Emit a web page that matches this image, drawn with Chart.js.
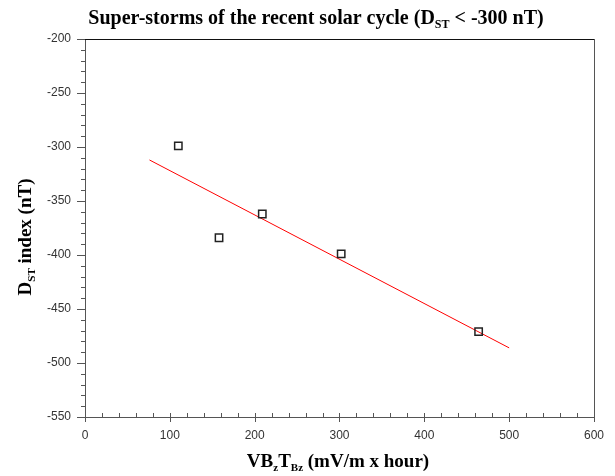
<!DOCTYPE html>
<html>
<head>
<meta charset="utf-8">
<script src="https://cdn.jsdelivr.net/npm/chart.js@4"></script>
<style>
  html, body { margin: 0; padding: 0; background: #fff; }
  #wrap { width: 615px; height: 476px; position: relative; }
</style>
</head>
<body>
<div id="wrap"><canvas id="chart"></canvas></div>
<script>
// Super-storms: coupling function vs Dst minimum
const stormX = [110, 158, 209, 302, 464];
const stormDst = [-299, -384, -362, -399, -471];

// Fitted trend line, end points
const fitX = [76, 500];
const fitDst = [-312, -486];

const xTickLabels = ['0', '100', '200', '300', '400', '500', '600'];
const yTickLabels = ['-550', '-500', '-450', '-400', '-350', '-300', '-250', '-200'];

const SERIF = '"Liberation Serif", "Times New Roman", serif';
const SANS = '"Liberation Sans", Arial, sans-serif';

// Draw text made of pieces, some of them subscript
function richWidth(ctx, parts, size) {
    let w = 0;
    parts.forEach(p => {
        ctx.font = 'bold ' + (p.sub ? Math.round(size * 0.6) : size) + 'px ' + SERIF;
        w += ctx.measureText(p.t).width;
    });
    return w;
}

function drawRich(ctx, parts, size, cx, baseline) {
    let x = cx - richWidth(ctx, parts, size) / 2;
    ctx.textAlign = 'left';
    ctx.textBaseline = 'alphabetic';
    ctx.fillStyle = '#000';
    parts.forEach(p => {
        ctx.font = 'bold ' + (p.sub ? Math.round(size * 0.6) : size) + 'px ' + SERIF;
        ctx.fillText(p.t, x, baseline + (p.sub ? size * 0.22 : 0));
        x += ctx.measureText(p.t).width;
    });
}

const titleParts = [
    { t: 'Super-storms of the recent solar cycle (D' },
    { t: 'ST', sub: true },
    { t: ' < -300 nT)' },
];
const xTitleParts = [
    { t: 'VB' }, { t: 'z', sub: true }, { t: 'T' }, { t: 'Bz', sub: true },
    { t: ' (mV/m x hour)' },
];
const yTitleParts = [
    { t: 'D' }, { t: 'ST', sub: true }, { t: ' index (nT)' },
];

// Frame, ticks and rich-text titles
const framePlugin = {
    id: 'frame',
    afterDraw(chart) {
        const ctx = chart.ctx;
        const a = chart.chartArea;
        const xs = chart.scales.x;
        const ys = chart.scales.y;
        ctx.save();
        ctx.lineWidth = 1;
        ctx.strokeStyle = '#555';
        ctx.strokeRect(Math.round(a.left) + 0.5, Math.round(a.top) + 0.5,
            Math.round(a.right - a.left), Math.round(a.bottom - a.top));
        ctx.strokeStyle = '#111';
        ctx.beginPath();
        ctx.moveTo(Math.round(a.left), Math.round(a.top) + 0.5);
        ctx.lineTo(Math.round(a.right), Math.round(a.top) + 0.5);
        ctx.stroke();

        ctx.strokeStyle = '#555';
        // x ticks every 20, inside
        ctx.beginPath();
        for (let v = 0; v <= 600; v += 20) {
            const px = Math.round(xs.getPixelForValue(v)) + 0.5;
            const major = v % 100 === 0;
            const b = Math.round(a.bottom);
            ctx.moveTo(px, major ? b + 5 : b);
            ctx.lineTo(px, b - 4);
        }
        // y ticks every 10, outside
        for (let v = -550; v <= -200; v += 10) {
            const py = Math.round(ys.getPixelForValue(v)) + 0.5;
            const major = v % 50 === 0;
            const l = Math.round(a.left);
            ctx.moveTo(l, py);
            ctx.lineTo(l - (major ? 8 : 4), py);
        }
        ctx.stroke();

        drawRich(ctx, titleParts, 20, 316, 24);
        drawRich(ctx, xTitleParts, 19, 338, 467);
        ctx.translate(31, 237);
        ctx.rotate(-Math.PI / 2);
        drawRich(ctx, yTitleParts, 19, 0, 0);
        ctx.restore();
    }
};

new Chart(document.getElementById('chart'), {
    type: 'scatter',
    data: {
        datasets: [
            {
                label: 'Fit',
                type: 'line',
                data: fitX.map((x, i) => ({ x, y: fitDst[i] })),
                borderColor: '#ff0000',
                borderWidth: 1,
                pointRadius: 0,
                fill: false,
                order: 2,
            },
            {
                label: 'Super-storms',
                data: stormX.map((x, i) => ({ x, y: stormDst[i] })),
                pointStyle: 'rect',
                pointRadius: 5.2,
                borderColor: '#222',
                borderWidth: 1.5,
                backgroundColor: 'rgba(255,255,255,0)',
                order: 1,
            },
        ],
    },
    options: {
        responsive: true,
        maintainAspectRatio: false,
        animation: false,
        layout: { padding: { top: 39, right: 19, left: 0, bottom: 0 } },
        plugins: {
            legend: { display: false },
            tooltip: { enabled: false },
            title: { display: false },
        },
        scales: {
            x: {
                type: 'linear',
                min: 0,
                max: 600,
                afterFit: (s) => { s.height = 59; },
                afterBuildTicks: (s) => { s.ticks = xTickLabels.map(t => ({ value: +t })); },
                ticks: {
                    padding: 11,
                    color: '#333',
                    font: { family: SANS, size: 12 },
                    callback: (v) => String(v),
                },
                grid: { display: false, drawTicks: false },
                border: { display: false },
            },
            y: {
                type: 'linear',
                min: -550,
                max: -200,
                afterFit: (s) => { s.width = 85; },
                afterBuildTicks: (s) => { s.ticks = yTickLabels.map(t => ({ value: +t })); },
                ticks: {
                    padding: 14,
                    color: '#333',
                    font: { family: SANS, size: 12 },
                    callback: (v) => String(v),
                },
                grid: { display: false, drawTicks: false },
                border: { display: false },
            },
        },
    },
    plugins: [framePlugin],
});
</script>
</body>
</html>
